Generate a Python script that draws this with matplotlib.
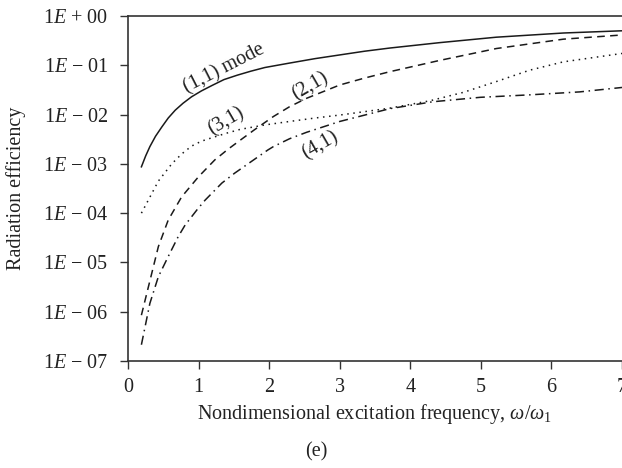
import numpy as np
import matplotlib
matplotlib.use("Agg")
import matplotlib.pyplot as plt
from matplotlib.ticker import FixedLocator, FuncFormatter

plt.rcParams['font.family'] = ['Liberation Serif', 'DejaVu Serif']
plt.rcParams['mathtext.fontset'] = 'custom'
plt.rcParams['mathtext.rm'] = 'Liberation Serif'
plt.rcParams['mathtext.it'] = 'Liberation Serif:italic'

# valores (log10 de la eficiencia de radiacion)
x11 = [0.19, 0.25, 0.31, 0.39, 0.48, 0.57, 0.67, 0.78, 0.90, 1.04, 1.19, 1.36, 1.55, 1.74,
       1.94, 2.29, 2.65, 3.0, 3.35, 3.71, 4.42, 5.22, 6.17, 7.0]
l11 = [-3.06, -2.84, -2.65, -2.44, -2.25, -2.07, -1.91, -1.77, -1.64, -1.52, -1.41, -1.29, -1.20, -1.12,
       -1.045, -0.955, -0.865, -0.79, -0.715, -0.65, -0.54, -0.43, -0.345, -0.30]

x21 = [0.19, 0.29, 0.43, 0.57, 0.76, 1.0, 1.23, 1.42, 1.59, 1.79, 2.06, 2.29, 2.53, 3.0,
       3.35, 3.71, 4.42, 5.22, 6.17, 7.0]
l21 = [-6.07, -5.49, -4.68, -4.14, -3.67, -3.26, -2.92, -2.70, -2.52, -2.31, -2.04, -1.84, -1.67, -1.40,
       -1.26, -1.13, -0.90, -0.66, -0.47, -0.385]

x31 = [0.19, 0.29, 0.43, 0.62, 0.76, 0.90, 1.04, 1.19, 1.39, 1.59, 1.94, 2.29, 2.65, 3.0,
       3.71, 4.28, 4.75, 5.22, 5.69, 6.17, 7.0]
l31 = [-4.0, -3.73, -3.35, -3.0, -2.80, -2.64, -2.54, -2.47, -2.38, -2.30, -2.21, -2.14, -2.07, -2.01,
       -1.87, -1.72, -1.55, -1.33, -1.10, -0.93, -0.76]

x41 = [0.19, 0.31, 0.43, 0.57, 0.71, 0.81, 0.99, 1.09, 1.33, 1.51, 1.61, 1.98, 2.06, 2.29, 2.53,
       3.0, 3.71, 4.32, 4.99, 5.69, 6.40, 7.0]
l41 = [-6.67, -5.83, -5.29, -4.88, -4.48, -4.24, -3.91, -3.74, -3.39, -3.19, -3.09, -2.72, -2.65, -2.49, -2.36,
       -2.14, -1.88, -1.74, -1.65, -1.60, -1.54, -1.45]

fig = plt.figure(figsize=(6.22, 4.68), dpi=100)
ax = fig.add_axes([128 / 622, 1 - 361 / 468, 494 / 622, 345 / 468])

c = '#1a1a1a'
ax.plot(x11, 10 ** np.array(l11), color=c, lw=1.1, ls='-')
ax.plot(x21, 10 ** np.array(l21), color=c, lw=1.1, ls=(0, (5, 3.5)))
ax.plot(x31, 10 ** np.array(l31), color=c, lw=1.1, ls=(0, (1, 3)))
ax.plot(x41, 10 ** np.array(l41), color=c, lw=1.1, ls=(0, (6, 3, 1, 3)))

ax.set_yscale('log')
ax.set_xlim(0, 7)
ax.set_ylim(1e-7, 1)
ax.xaxis.set_major_locator(FixedLocator(range(0, 8)))
ax.yaxis.set_major_locator(FixedLocator([10.0 ** k for k in range(-7, 1)]))
ax.yaxis.set_minor_locator(FixedLocator([]))

def fmt(v, pos):
    k = int(round(np.log10(v)))
    signo = '+' if k >= 0 else '\u2212'
    return '1$\\mathit{E}$ %s %02d' % (signo, abs(k))

ax.yaxis.set_major_formatter(FuncFormatter(fmt))
ax.tick_params(direction='out', length=6, width=1, labelsize=14.5, colors='#333333', labelcolor='#222222')
ax.tick_params(axis='y', pad=8)
ax.tick_params(axis='x', pad=6)
for s in ['left', 'bottom', 'top']:
    ax.spines[s].set_color('#333333')
    ax.spines[s].set_linewidth(1.2)
ax.spines['right'].set_visible(False)

ax.set_xlabel('Nondimensional excitation frequency, $\\omega/\\omega_1$', fontsize=14.5, color='#222222', labelpad=4)
ax.set_ylabel('Radiation efficiency', fontsize=14.5, color='#222222', labelpad=12)

ax.text(1.37, 10 ** -1.07, '(1,1) mode', rotation=27, fontsize=14.5, ha='center', va='center', color='#222222')
ax.text(1.39, 10 ** -2.13, '(3,1)', rotation=30, fontsize=14.5, ha='center', va='center', color='#222222')
ax.text(2.58, 10 ** -1.42, '(2,1)', rotation=30, fontsize=14.5, ha='center', va='center', color='#222222')
ax.text(2.73, 10 ** -2.62, '(4,1)', rotation=30, fontsize=14.5, ha='center', va='center', color='#222222')

fig.text(316 / 622, 1 - 452 / 468, '(e)', fontsize=14.5, ha='center', va='center', color='#222222')

fig.savefig('out.png', dpi=100)
